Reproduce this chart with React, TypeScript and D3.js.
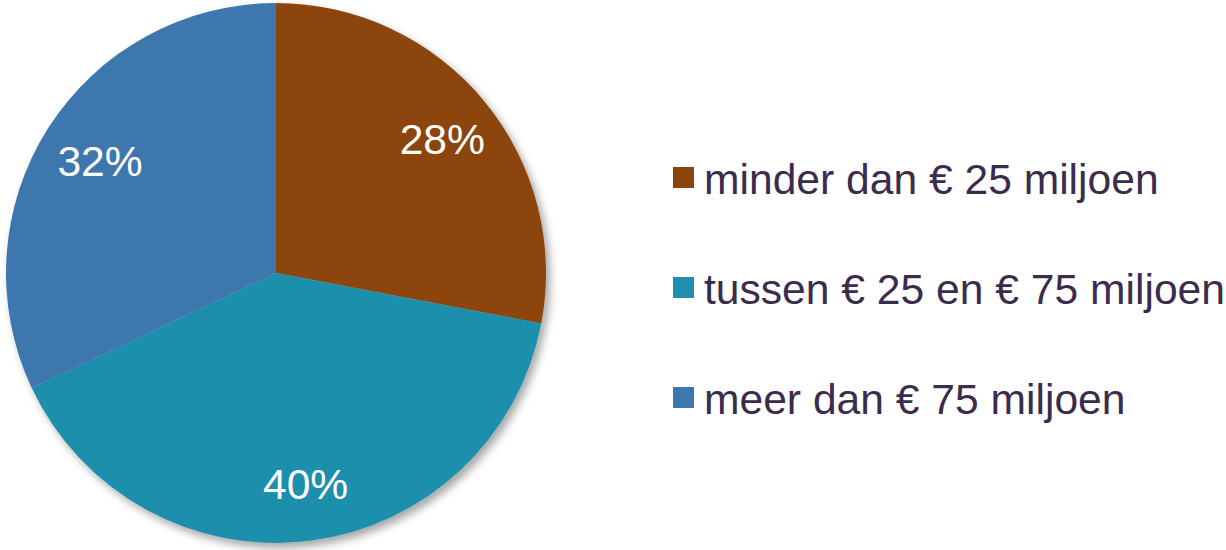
import React from "react";
import * as d3 from "d3";

const categories = ["minder dan € 25 miljoen", "tussen € 25 en € 75 miljoen", "meer dan € 75 miljoen"];
const values = [28, 40, 32];
const colors = ["#8B4409", "#1F8FAD", "#3D77AD"];

const W = 1226;
const H = 550;
const cx = 276;
const cy = 273;
const R = 270;

export default function App() {
  const pie = d3.pie<number>().sort(null).value((d) => d);
  const arcs = pie(values);
  const arc = d3.arc<d3.PieArcDatum<number>>().innerRadius(0).outerRadius(R);
  const labelArc = d3.arc<d3.PieArcDatum<number>>().innerRadius(R * 0.785).outerRadius(R * 0.785);
  const total = d3.sum(values);
  const legendY = d3.scaleBand<number>().domain(categories.map((_, i) => i)).range([124, 454]);

  return (
    <svg width={W} height={H} style={{ position: "absolute", left: 0, top: 0, display: "block" }}>
      <defs>
        <filter id="sh" x="-10%" y="-10%" width="130%" height="130%">
          <feDropShadow dx="4" dy="5" stdDeviation="4" floodColor="#000" floodOpacity="0.35" />
        </filter>
      </defs>
      <g transform={`translate(${cx},${cy})`}>
        <g filter="url(#sh)">
          {arcs.map((a, i) => (
            <path key={i} d={arc(a) || ""} fill={colors[i]} />
          ))}
        </g>
        {arcs.map((a, i) => {
          const [x, y] = labelArc.centroid(a);
          return (
            <text
              key={i}
              x={x + 3}
              y={y}
              dy="0.38em"
              textAnchor="middle"
              fill="#fff"
              fontFamily="'Liberation Sans', Arial, sans-serif"
              fontSize={42.6}
            >
              {Math.round((a.data / total) * 100)}%
            </text>
          );
        })}
      </g>
      <g>
        {categories.map((c, i) => {
          const yc = (legendY(i) as number) + legendY.bandwidth() / 2;
          return (
            <g key={i}>
              <rect x={673} y={yc - 12} width={21} height={21} fill={colors[i]} />
              <text
                x={704}
                y={yc + 15}
                fill="#3B2C4E"
                fontFamily="'Liberation Sans', Arial, sans-serif"
                fontSize={42.6}
              >
                {c}
              </text>
            </g>
          );
        })}
      </g>
    </svg>
  );
}
